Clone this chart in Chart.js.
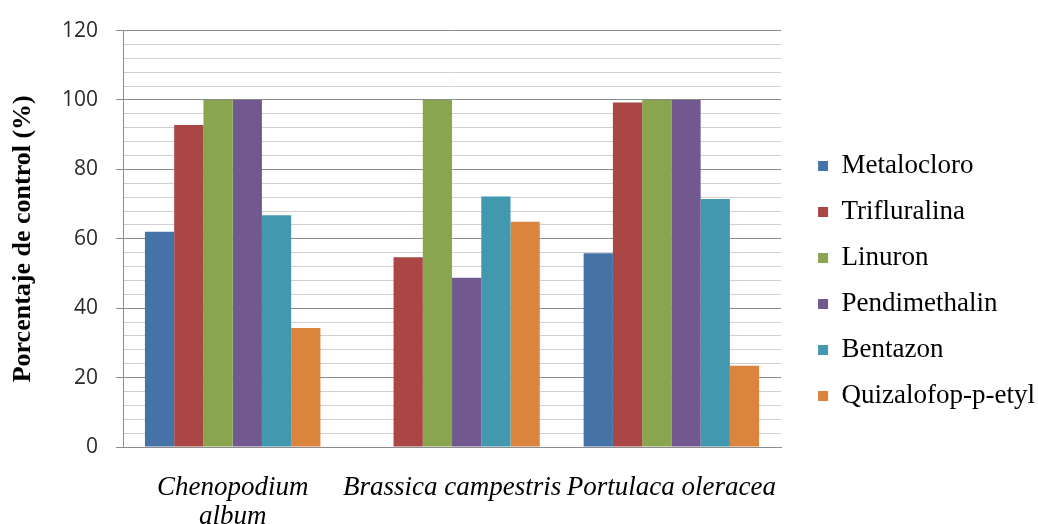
<!DOCTYPE html>
<html>
<head>
<meta charset="utf-8">
<script src="https://cdn.jsdelivr.net/npm/chart.js@4/dist/chart.umd.min.js"></script>
<style>
  html, body { margin: 0; padding: 0; background: #ffffff; }
  #wrap { width: 1038px; height: 524px; position: relative; }
</style>
</head>
<body>
<div id="wrap"><canvas id="c" width="1038" height="524"></canvas></div>
<script>
// ---- data ----
const categories = [['Chenopodium', 'album'], 'Brassica campestris', 'Portulaca oleracea'];
const seriesNames = ['Metalocloro', 'Trifluralina', 'Linuron', 'Pendimethalin', 'Bentazon', 'Quizalofop-p-etyl'];
const metalocloro   = [62, 0, 55.8];
const trifluralina  = [92.8, 54.7, 99.3];
const linuron       = [100, 100, 100];
const pendimethalin = [100, 48.8, 100];
const bentazon      = [66.8, 72.2, 71.5];
const quizalofop    = [34.3, 64.9, 23.4];
const yTickLabels   = [0, 20, 40, 60, 80, 100, 120];
const yTitle = 'Porcentaje de control (%)';

// ---- styles ----
const colors = ['#4572A7', '#AA4643', '#89A54E', '#71588F', '#4198AF', '#DB843D'];
const seriesValues = [metalocloro, trifluralina, linuron, pendimethalin, bentazon, quizalofop];

const datasets = seriesNames.map((name, i) => ({
  label: name,
  data: seriesValues[i],
  backgroundColor: colors[i],
  borderWidth: 0,
  categoryPercentage: 0.8,
  barPercentage: 1.0
}));

const isMajor = v => yTickLabels.includes(v);

// moves the legend block a little to the right / down, like the original layout
const legendOffset = {
  id: 'legendOffset',
  afterLayout(chart) {
    const lg = chart.legend;
    if (!lg) return;
    lg.left += 18; lg.right += 18;
    lg.top += 6; lg.bottom += 6;
  }
};

new Chart(document.getElementById('c'), {
  type: 'bar',
  data: { labels: categories, datasets },
  plugins: [legendOffset],
  options: {
    responsive: false,
    devicePixelRatio: 1,
    animation: false,
    layout: { padding: { top: 26, left: 3, right: 11, bottom: 0 } },
    plugins: {
      tooltip: { enabled: false },
      legend: {
        position: 'right',
        labels: {
          boxWidth: 10,
          boxHeight: 10,
          padding: 19,
          color: '#000000',
          font: { family: '"Liberation Serif", "Times New Roman", serif', size: 27 }
        }
      }
    },
    scales: {
      x: {
        grid: { display: false, drawTicks: false },
        border: { display: true, color: '#8c8c8c', width: 1 },
        ticks: {
          padding: 26,
          maxRotation: 0,
          minRotation: 0,
          autoSkip: false,
          color: '#000000',
          font: { family: '"Liberation Serif", "Times New Roman", serif', size: 27, style: 'italic', lineHeight: 1.08 }
        },
        afterFit: s => { s.height = 77; }
      },
      y: {
        min: 0,
        max: 120,
        grid: {
          display: true,
          drawTicks: true,
          tickLength: 7,
          lineWidth: 1,
          color: ctx => isMajor(ctx.tick.value) ? '#8c8c8c' : '#d0d0d0',
          tickColor: ctx => isMajor(ctx.tick.value) ? '#8c8c8c' : 'rgba(0,0,0,0)'
        },
        border: { display: true, color: '#8c8c8c', width: 1 },
        ticks: {
          stepSize: 4,
          autoSkip: false,
          padding: 18,
          color: '#2b2b2b',
          font: { family: '"Open Sans", sans-serif', size: 21 },
          callback: v => isMajor(v) ? String(v) : ''
        },
        title: {
          display: true,
          text: yTitle,
          color: '#000000',
          padding: { top: 5, bottom: 0 },
          font: { family: '"Liberation Serif", "Times New Roman", serif', size: 26, weight: 'bold', lineHeight: 1.2 }
        },
        afterFit: s => { s.width = 120; }
      }
    }
  }
});
</script>
</body>
</html>
